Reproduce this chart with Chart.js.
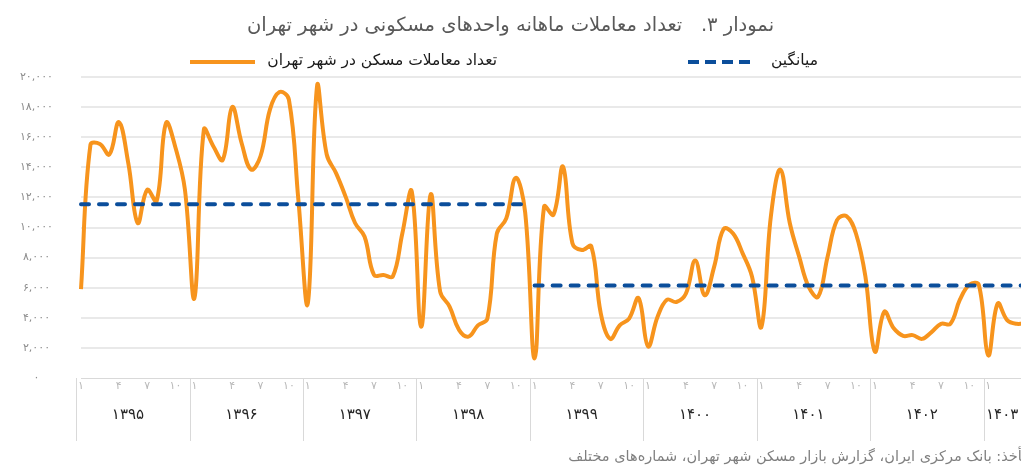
<!DOCTYPE html>
<html lang="fa">
<head>
<meta charset="utf-8">
<script src="https://cdn.jsdelivr.net/npm/chart.js@4.4.1/dist/chart.umd.min.js"></script>
<style>
  html, body { margin: 0; padding: 0; background: #fff; overflow: hidden; }
  #wrap { position: relative; width: 1021px; height: 469px; overflow: hidden; font-family: 'DejaVu Sans', sans-serif; }
  #box { position: absolute; left: 0; top: 0; width: 1031px; height: 469px; }
  .title { position: absolute; top: 13px; left: 0; width: 1021px; text-align: center; direction: rtl; font-size: 19.5px; color: #595959; white-space: nowrap; }
  .legend-text { position: absolute; top: 51px; direction: rtl; font-size: 15.5px; color: #1a1a1a; white-space: nowrap; }
  .legend-line { position: absolute; top: 60px; height: 4px; }
  .source { position: absolute; top: 448px; right: -9px; direction: rtl; font-size: 14.5px; color: #7f7f7f; white-space: nowrap; }
</style>
</head>
<body>
<div id="wrap">
  <div id="box"><canvas id="chart"></canvas></div>
  <div class="title">نمودار ۳.&nbsp;&nbsp; تعداد معاملات ماهانه واحدهای مسکونی در شهر تهران</div>
  <div class="legend-line" style="left:190px; width:65px; background:#F7941D;"></div>
  <div class="legend-text" style="right:524px;">تعداد معاملات مسکن در شهر تهران</div>
  <div class="legend-line" style="left:688px; width:62px; background:repeating-linear-gradient(90deg, #0B4E9B 0 11px, transparent 11px 17px);"></div>
  <div class="legend-text" style="right:203px;">میانگین</div>
  <div class="source">مأخذ: بانک مرکزی ایران، گزارش بازار مسکن شهر تهران، شماره‌های مختلف</div>
</div>
<script>
const faDigits = '۰۱۲۳۴۵۶۷۸۹'
const toFa = (s) => String(s).replace(/\d/g, d => faDigits[d])

// years shown under the axis and monthly transactions for each of them
const years = ['۱۳۹۵', '۱۳۹۶', '۱۳۹۷', '۱۳۹۸', '۱۳۹۹', '۱۴۰۰', '۱۴۰۱', '۱۴۰۲', '۱۴۰۳']

const deals1395 = [5900, 15500, 15550, 14850, 17000, 14300, 10300, 12500, 11750, 16950, 15300, 12500]
const deals1396 = [5300, 16500, 15400, 14500, 18000, 15600, 13850, 14750, 17850, 19000, 18500, 11850]
const deals1397 = [4950, 19500, 14850, 13600, 12050, 10300, 9400, 6850, 6850, 6750, 9600, 12400]
const deals1398 = [3400, 12200, 5750, 4750, 3200, 2750, 3500, 3950, 9600, 10600, 13300, 11000]
const deals1399 = [1300, 11400, 10850, 14050, 8950, 8500, 8750, 4300, 2600, 3500, 3950, 5300]
const deals1400 = [2100, 4050, 5200, 5050, 5600, 7800, 5500, 7400, 9900, 9600, 8300, 6750]
const deals1401 = [3400, 10750, 13850, 10300, 8050, 6050, 5400, 8050, 10500, 10750, 9600, 6750]
const deals1402 = [1750, 4400, 3300, 2800, 2850, 2600, 3050, 3600, 3600, 5200, 6200, 6200]
const deals1403 = [1500, 4950, 3850, 3600, 3650]

const dealsByYear = [deals1395, deals1396, deals1397, deals1398, deals1399, deals1400, deals1401, deals1402, deals1403]

// averages: 1395-1398 and 1399 onward
const avgFirst = 11550
const avgSecond = 6150
const avgSplitYear = 4

// month labels that show under the axis (position in year -> text)
const monthTicks = {0: '۱', 4: '۴', 7: '۷', 10: '۱۰'}

const yTicks = [0, 2000, 4000, 6000, 8000, 10000, 12000, 14000, 16000, 18000, 20000]

const labels = []
const deals = []
const avgLine1 = []
const avgLine2 = []

dealsByYear.forEach((values, y) => {
    values.forEach((v, m) => {
        labels.push(years[y] + '-' + (m + 1))
        deals.push(v)
        avgLine1.push(y < avgSplitYear ? avgFirst : null)
        avgLine2.push(y >= avgSplitYear ? avgSecond : null)
    })
})

const yearGroups = {
    id: 'yearGroups',
    afterDraw: (chart) => {
        const ctx = chart.ctx
        const x = chart.scales.x
        const bottom = chart.chartArea.bottom
        const half = (x.getPixelForValue(1) - x.getPixelForValue(0)) / 2
        let start = 0

        ctx.save()
        dealsByYear.forEach((values, y) => {
            const end = start + values.length - 1
            const left = x.getPixelForValue(start) - half
            const right = x.getPixelForValue(end) + half

            ctx.strokeStyle = '#d9d9d9'
            ctx.lineWidth = 1
            ctx.beginPath()
            ctx.moveTo(Math.round(left) + 0.5, bottom)
            ctx.lineTo(Math.round(left) + 0.5, bottom + 63)
            ctx.stroke()

            ctx.fillStyle = '#262626'
            ctx.font = '15px "DejaVu Sans"'
            ctx.textAlign = 'center'
            ctx.textBaseline = 'middle'
            ctx.fillText(years[y], (left + right) / 2 - 5, bottom + 37)

            start = end + 1
        })
        ctx.restore()
    }
}

new Chart(document.getElementById('chart'), {
    type: 'line',
    data: {
        labels: labels,
        datasets: [
            {
                label: 'میانگین',
                data: avgLine1,
                borderColor: '#0B4E9B',
                borderWidth: 4,
                borderDash: [8, 10],
                borderCapStyle: 'round',
                pointRadius: 0,
                order: 0
            },
            {
                label: 'میانگین',
                data: avgLine2,
                borderColor: '#0B4E9B',
                borderWidth: 4,
                borderDash: [8, 10],
                borderCapStyle: 'round',
                pointRadius: 0,
                order: 0
            },
            {
                label: 'تعداد معاملات مسکن در شهر تهران',
                data: deals,
                borderColor: '#F7941D',
                borderWidth: 4,
                tension: 0.4,
                pointRadius: 0,
                order: 1
            }
        ]
    },
    options: {
        responsive: true,
        maintainAspectRatio: false,
        animation: false,
        layout: { padding: { top: 77, right: 0, bottom: 0, left: 5 } },
        plugins: {
            legend: { display: false },
            tooltip: { enabled: false }
        },
        scales: {
            x: {
                grid: { display: false, drawTicks: false },
                border: { color: '#d9d9d9', width: 1 },
                ticks: {
                    autoSkip: false,
                    maxRotation: 0,
                    padding: 2,
                    color: '#b8b8b8',
                    font: { family: 'DejaVu Sans', size: 11 },
                    callback: (value, index) => {
                        let k = index
                        let y = 0
                        while (k >= dealsByYear[y].length) { k -= dealsByYear[y].length; y++ }
                        return monthTicks[k] || ''
                    }
                },
                afterFit: (scale) => { scale.height = 91 }
            },
            y: {
                min: 0,
                max: 20000,
                afterBuildTicks: (scale) => { scale.ticks = yTicks.map(v => ({value: v})) },
                grid: {
                    color: (c) => c.tick.value === 0 ? 'rgba(0,0,0,0)' : '#e9e9e9',
                    lineWidth: 2,
                    drawTicks: false
                },
                border: { display: false },
                ticks: {
                    crossAlign: 'center',
                    padding: 28,
                    color: '#8c8c8c',
                    font: { family: 'DejaVu Sans', size: 11 },
                    callback: (v) => toFa(Number(v).toLocaleString('en-US'))
                },
                afterFit: (scale) => { scale.width = 76 }
            }
        }
    },
    plugins: [yearGroups]
})
</script>
</body>
</html>
